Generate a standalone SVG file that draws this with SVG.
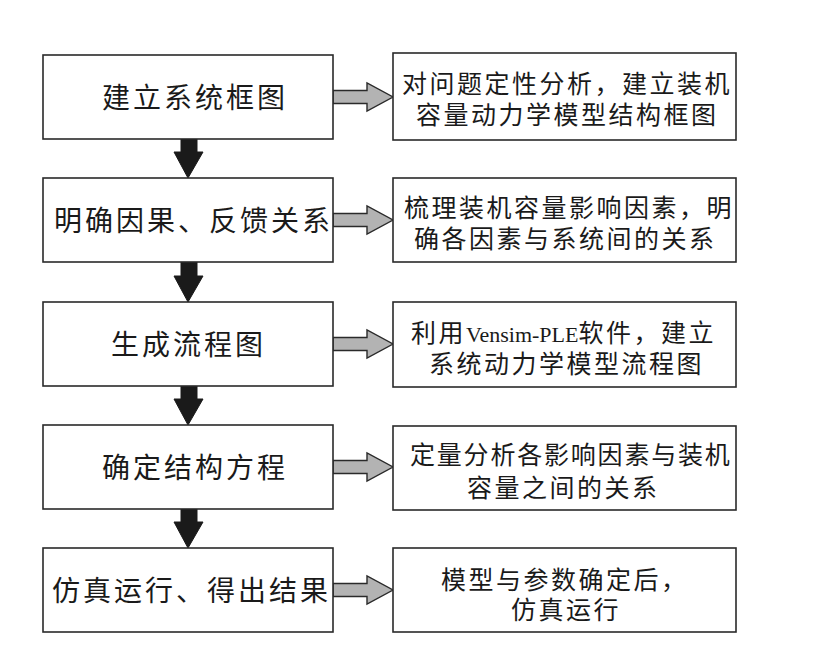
<svg xmlns="http://www.w3.org/2000/svg" width="821" height="651" viewBox="0 0 821 651">
<style>
.box{fill:#fff;stroke:#2a2a2a;stroke-width:1.6}
.lt{font-family:"Liberation Serif","Noto Sans CJK SC",serif;font-size:28px;letter-spacing:3px;fill:#1a1a1a}
.rt{font-family:"Liberation Serif","Noto Sans CJK SC",serif;font-size:25px;letter-spacing:2.5px;fill:#1a1a1a}
.lat{font-size:22px;letter-spacing:0}
.down{fill:#1a1a1a;stroke:#1a1a1a;stroke-width:1}
.side{fill:#b3b3b3;stroke:#2a2a2a;stroke-width:1.4;stroke-linejoin:miter}
</style>
<rect width="821" height="651" fill="#fff"/>
<g id="connectors">
<polygon class="down" points="181,139 197,139 197,152 203,152 188,178 174,152 181,152"/>
<polygon class="down" points="181,262 197,262 197,276 203,276 188,302 174,276 181,276"/>
<polygon class="down" points="181,386 197,386 197,399 203,399 188,425 174,399 181,399"/>
<polygon class="down" points="181,509 197,509 197,522 203,522 188,548 174,522 181,522"/>
<polygon class="side" points="333,90.5 367,90.5 367,83 393,97 367,111 367,103.5 333,103.5"/>
<polygon class="side" points="333,213.5 367,213.5 367,206 393,220 367,234 367,226.5 333,226.5"/>
<polygon class="side" points="333,337.5 367,337.5 367,330 393,344 367,358 367,350.5 333,350.5"/>
<polygon class="side" points="333,460.5 367,460.5 367,453 393,467 367,481 367,473.5 333,473.5"/>
<polygon class="side" points="333,583.5 367,583.5 367,576 393,590 367,604 367,596.5 333,596.5"/>
</g>
<g id="n1"><rect class="box" x="43" y="55" width="290" height="84"/><text class="lt" x="102" y="108">建立系统框图</text></g>
<g id="n2"><rect class="box" x="43" y="178" width="290" height="84"/><text class="lt" x="54" y="231">明确因果、反馈关系</text></g>
<g id="n3"><rect class="box" x="43" y="302" width="290" height="84"/><text class="lt" x="111" y="355">生成流程图</text></g>
<g id="n4"><rect class="box" x="43" y="425" width="290" height="84"/><text class="lt" x="102" y="478">确定结构方程</text></g>
<g id="n5"><rect class="box" x="43" y="548" width="290" height="84"/><text class="lt" x="52" y="601">仿真运行、得出结果</text></g>
<g id="r1"><rect class="box" x="393" y="53" width="343" height="87"/>
<text class="rt" x="402" y="93">对问题定性分析，建立装机</text>
<text class="rt" x="416" y="124">容量动力学模型结构框图</text></g>
<g id="r2"><rect class="box" x="393" y="178" width="343" height="84"/>
<text class="rt" x="404" y="217">梳理装机容量影响因素，明</text>
<text class="rt" x="414" y="248">确各因素与系统间的关系</text></g>
<g id="r3"><rect class="box" x="393" y="302" width="343" height="85"/>
<text class="rt" x="411" y="342">利用<tspan class="lat">Vensim-PLE</tspan>软件，建立</text>
<text class="rt" x="429" y="373">系统动力学模型流程图</text></g>
<g id="r4"><rect class="box" x="393" y="426" width="343" height="84"/>
<text class="rt" x="410" y="464" style="letter-spacing:1.8px">定量分析各影响因素与装机</text>
<text class="rt" x="467" y="497">容量之间的关系</text></g>
<g id="r5"><rect class="box" x="393" y="548" width="343" height="84"/>
<text class="rt" x="441" y="589">模型与参数确定后，</text>
<text class="rt" x="511" y="619">仿真运行</text></g>
</svg>
